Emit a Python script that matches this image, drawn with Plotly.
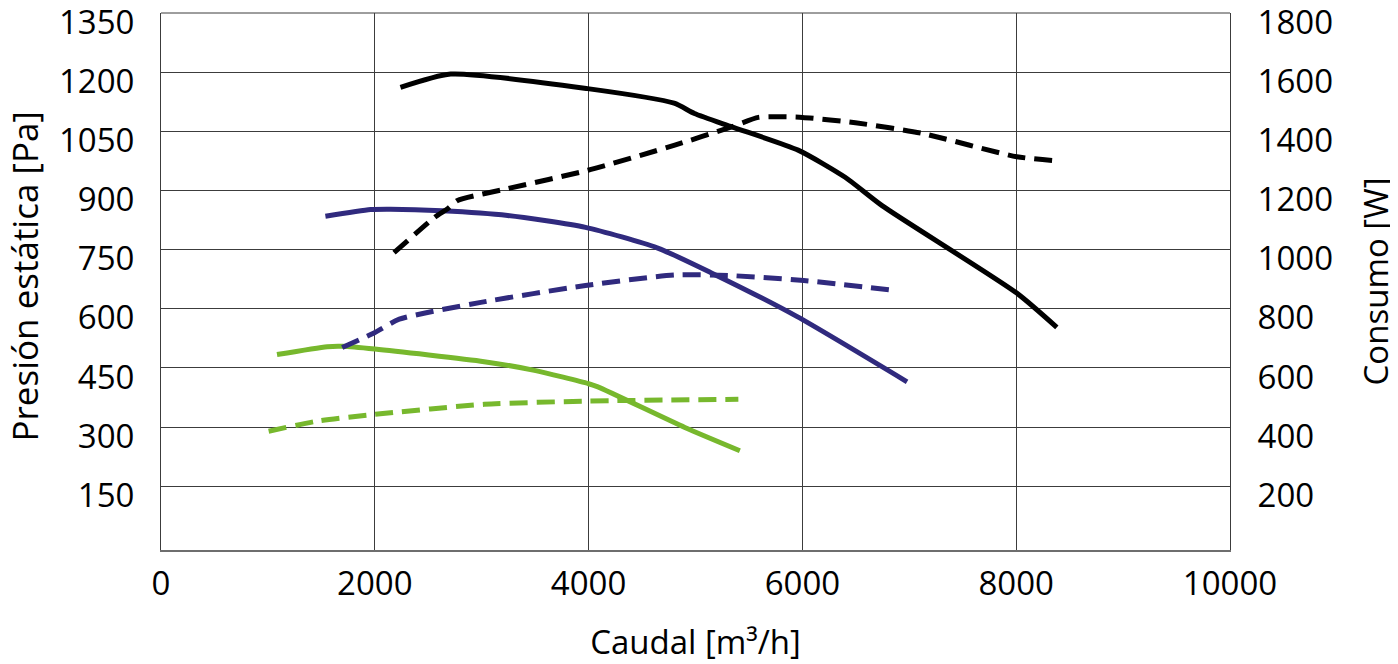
import plotly.graph_objects as go

# Caudal [m3/h] vs presión estática [Pa] (solid) and consumo [W] (dashed)
black_p_x = [2240, 2710, 3990, 4800, 4990, 5340, 5960, 6400, 6745, 8005, 8380]
black_p_y = [1162, 1196, 1159, 1122, 1096, 1062, 1003, 934, 862, 640, 553]
black_w_x = [2180, 2564, 2681, 2774, 3243, 3993, 4806, 5338, 5588, 5807, 6001, 6496, 7119, 8005, 8382]
black_w_y = [990, 1111, 1139, 1167, 1207, 1269, 1354, 1416, 1448, 1450, 1448, 1430, 1394, 1315, 1301]

blue_p_x = [1538, 1961, 2148, 2630, 3243, 3971, 4641, 5144, 5947, 6979]
blue_p_y = [835, 852, 853, 849, 837, 807, 755, 692, 581, 415]
blue_w_x = [1695, 2001, 2229, 2992, 3971, 4809, 5310, 6013, 6869]
blue_w_y = [669, 720, 765, 822, 879, 915, 913, 896, 862]

green_p_x = [1085, 1555, 1700, 2001, 3023, 3493, 4000, 4087, 4900, 5415]
green_p_y = [484, 504, 505, 498, 466, 444, 410, 402, 299, 240]
green_w_x = [1007, 1461, 2001, 3023, 4000, 5401]
green_w_y = [386, 420, 443, 477, 488, 494]

x_ticks = [0, 2000, 4000, 6000, 8000, 10000]
x_labels = ["0", "2000", "4000", "6000", "8000", "10000"]
left_ticks = [150, 300, 450, 600, 750, 900, 1050, 1200, 1350]
right_ticks = [200, 400, 600, 800, 1000, 1200, 1400, 1600, 1800]

BLACK = "#000000"
BLUE = "#302a7e"
GREEN = "#77b82d"
DASH = "18px,9px"

fig = go.Figure()
for xs, ys, col in [(green_w_x, green_w_y, GREEN), (blue_w_x, blue_w_y, BLUE), (black_w_x, black_w_y, BLACK)]:
    fig.add_trace(go.Scatter(x=xs, y=ys, mode="lines", yaxis="y2",
                             line=dict(color=col, width=5, dash=DASH, shape="spline", smoothing=0.6)))
for xs, ys, col in [(green_p_x, green_p_y, GREEN), (blue_p_x, blue_p_y, BLUE), (black_p_x, black_p_y, BLACK)]:
    fig.add_trace(go.Scatter(x=xs, y=ys, mode="lines",
                             line=dict(color=col, width=5, shape="spline", smoothing=0.6)))

font = dict(family="Open Sans, sans-serif", size=33, color="black")
# page body adds an 8px offset, so the figure is a bit smaller than the window
fig.update_layout(
    width=1390, height=656,
    margin=dict(l=153, r=168, t=5, b=114),
    paper_bgcolor="white", plot_bgcolor="white",
    showlegend=False,
    font=font,
    xaxis=dict(
        range=[0, 10000], tickvals=x_ticks, ticktext=x_labels, automargin=False,
        showgrid=True, gridcolor="#3c3c3c", gridwidth=1,
        showline=True, linecolor="#6e6e6e", linewidth=2, mirror=False, zeroline=False,
        ticks="outside", ticklen=3, tickcolor="rgba(0,0,0,0)", ticklabeloverflow="allow",
        title=dict(text="Caudal [m³/h]", standoff=28, font=font),
    ),
    yaxis=dict(
        range=[-12, 1351], tickvals=left_ticks, automargin=False,
        showgrid=True, gridcolor="#3c3c3c", gridwidth=1,
        showline=True, linecolor="#3c3c3c", linewidth=1, zeroline=False,
        ticks="outside", ticklen=19, tickcolor="rgba(0,0,0,0)", ticklabeloverflow="allow",
        ticklabelshift=9,
    ),
    yaxis2=dict(
        range=[-16, 1801.3], tickvals=right_ticks, overlaying="y", side="right", automargin=False,
        showgrid=False, showline=True, linecolor="#3c3c3c", linewidth=1, zeroline=False,
        ticks="outside", ticklen=20, tickcolor="rgba(0,0,0,0)", ticklabeloverflow="allow",
        ticklabelshift=9,
        title=dict(text="Consumo [W]", standoff=33, font=font),
    ),
)
# left axis title placed by hand, it sits further out than plotly puts it
fig.add_annotation(text="Presión estática [Pa]", xref="paper", yref="paper", x=0, y=0.5,
                   xanchor="center", yanchor="middle", xshift=-137, yshift=5, textangle=-90,
                   showarrow=False, font=dict(family="Open Sans, sans-serif", size=35, color="black"))
# top border
fig.add_shape(type="line", xref="paper", yref="paper", x0=0, x1=1, y0=1, y1=1,
              line=dict(color="#3c3c3c", width=1))

fig.write_html("out.html")
